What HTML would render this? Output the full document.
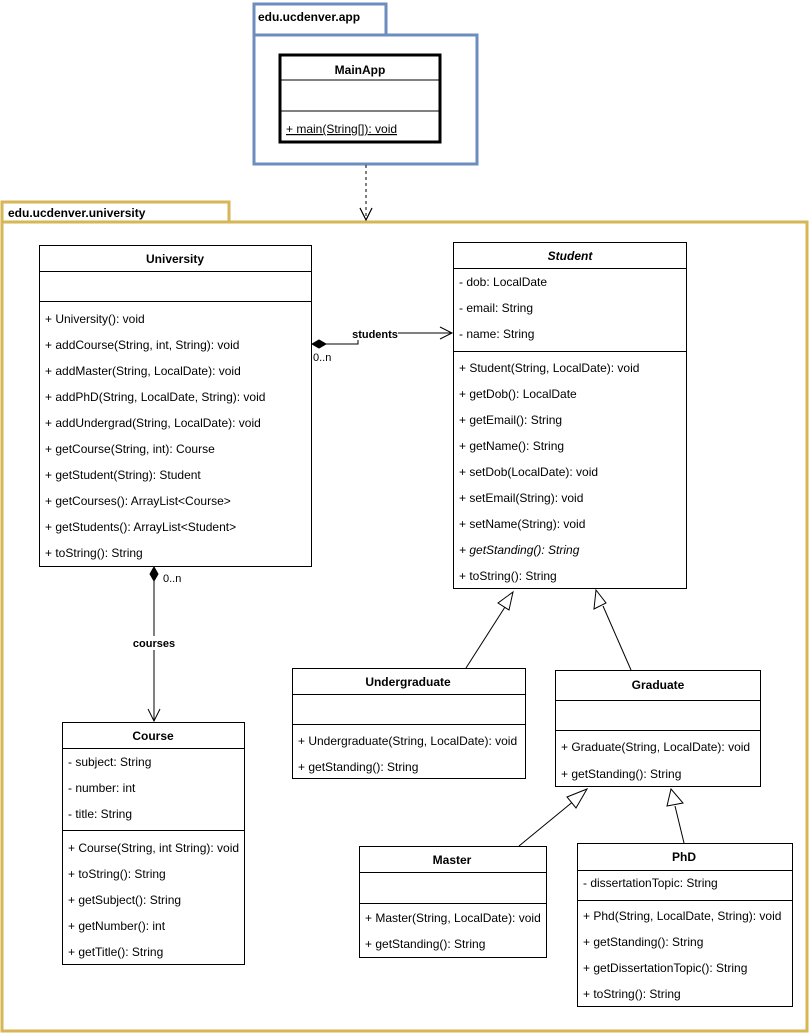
<!DOCTYPE html>
<html><head><meta charset="utf-8"><style>
html,body{margin:0;padding:0;background:#fff;}
svg{display:block;}
text{font-family:"Liberation Sans",Arial,sans-serif;font-size:12px;fill:#000;}
.b{font-weight:bold;}
</style></head><body>
<svg width="810" height="1034" viewBox="0 0 810 1034" xmlns="http://www.w3.org/2000/svg">
<!-- app package -->
<rect x="254" y="4" width="132" height="31" fill="#fff" stroke="#6c8ebf" stroke-width="3"/>
<rect x="254" y="35" width="223" height="129" fill="#fff" stroke="#6c8ebf" stroke-width="3"/>
<text x="258" y="21" class="b">edu.ucdenver.app</text>
<rect x="280" y="55" width="160" height="87" fill="#fff" stroke="#000" stroke-width="3"/>
<line x1="280" y1="80" x2="440" y2="80" stroke="#000" stroke-width="1"/>
<line x1="280" y1="111" x2="440" y2="111" stroke="#000" stroke-width="1"/>
<text x="360" y="74" class="b" text-anchor="middle">MainApp</text>
<text x="286" y="133" text-decoration="underline">+ main(String[]): void</text>
<!-- dashed dependency -->
<line x1="366" y1="165" x2="366" y2="220" stroke="#000" stroke-dasharray="3,3"/>
<polyline points="360,208 366,220 372,208" fill="none" stroke="#000"/>
<!-- university package -->
<rect x="2" y="202" width="227" height="20" fill="#fff" stroke="#d6b656" stroke-width="3"/>
<rect x="2" y="222" width="805" height="809" fill="#fff" stroke="#d6b656" stroke-width="3"/>
<text x="8" y="217" class="b">edu.ucdenver.university</text>
<polyline points="360,208 366,220 372,208" fill="none" stroke="#000"/>

<!-- University -->
<rect x="39.5" y="245.5" width="272" height="321" fill="#fff" stroke="#000"/>
<line x1="39" y1="271.5" x2="311" y2="271.5" stroke="#000"/>
<line x1="39" y1="301.5" x2="311" y2="301.5" stroke="#000"/>
<text x="175" y="263" class="b" text-anchor="middle">University</text>
<text x="45" y="323">+ University(): void</text>
<text x="45" y="349">+ addCourse(String, int, String): void</text>
<text x="45" y="375">+ addMaster(String, LocalDate): void</text>
<text x="45" y="401">+ addPhD(String, LocalDate, String): void</text>
<text x="45" y="427">+ addUndergrad(String, LocalDate): void</text>
<text x="45" y="453">+ getCourse(String, int): Course</text>
<text x="45" y="479">+ getStudent(String): Student</text>
<text x="45" y="505">+ getCourses(): ArrayList&lt;Course&gt;</text>
<text x="45" y="531">+ getStudents(): ArrayList&lt;Student&gt;</text>
<text x="45" y="557">+ toString(): String</text>

<!-- Student -->
<rect x="453.5" y="242.5" width="233" height="346" fill="#fff" stroke="#000"/>
<line x1="453" y1="268.5" x2="686" y2="268.5" stroke="#000"/>
<line x1="453" y1="351.5" x2="686" y2="351.5" stroke="#000"/>
<text x="570" y="260" class="b" font-style="italic" text-anchor="middle">Student</text>
<text x="459" y="286">- dob: LocalDate</text>
<text x="459" y="312">- email: String</text>
<text x="459" y="338">- name: String</text>
<text x="459" y="372">+ Student(String, LocalDate): void</text>
<text x="459" y="398">+ getDob(): LocalDate</text>
<text x="459" y="424">+ getEmail(): String</text>
<text x="459" y="450">+ getName(): String</text>
<text x="459" y="476">+ setDob(LocalDate): void</text>
<text x="459" y="502">+ setEmail(String): void</text>
<text x="459" y="528">+ setName(String): void</text>
<text x="459" y="554" font-style="italic">+ getStanding(): String</text>
<text x="459" y="580">+ toString(): String</text>

<!-- students association -->
<polyline points="312,344 358,344 358,333 452,333" fill="none" stroke="#000"/>
<polygon points="312,344 319,340 326,344 319,348" fill="#000" stroke="#000"/>
<polyline points="440,327 452,333 440,339" fill="none" stroke="#000"/>
<rect x="352" y="328" width="46" height="12" fill="#fff"/>
<text x="375" y="338" class="b" font-size="11" text-anchor="middle" style="font-size:11px">students</text>
<text x="313" y="361" style="font-size:11px">0..n</text>

<!-- Course -->
<rect x="62.5" y="722.5" width="182" height="242" fill="#fff" stroke="#000"/>
<line x1="62" y1="748.5" x2="244" y2="748.5" stroke="#000"/>
<line x1="62" y1="830.5" x2="244" y2="830.5" stroke="#000"/>
<text x="153" y="740" class="b" text-anchor="middle">Course</text>
<text x="68" y="766">- subject: String</text>
<text x="68" y="792">- number: int</text>
<text x="68" y="818">- title: String</text>
<text x="68" y="852">+ Course(String, int String): void</text>
<text x="68" y="878">+ toString(): String</text>
<text x="68" y="904">+ getSubject(): String</text>
<text x="68" y="930">+ getNumber(): int</text>
<text x="68" y="956">+ getTitle(): String</text>

<!-- courses association -->
<line x1="154" y1="568" x2="154" y2="721" stroke="#000"/>
<polygon points="154,567 150,574 154,581 158,574" fill="#000" stroke="#000"/>
<polyline points="148,709 154,721 160,709" fill="none" stroke="#000"/>
<rect x="130" y="636" width="48" height="14" fill="#fff"/>
<text x="154" y="647" class="b" text-anchor="middle" style="font-size:11px">courses</text>
<text x="163" y="582" style="font-size:11px">0..n</text>

<!-- Undergraduate -->
<rect x="292.5" y="668.5" width="233" height="110" fill="#fff" stroke="#000"/>
<line x1="292" y1="694.5" x2="525" y2="694.5" stroke="#000"/>
<line x1="292" y1="724.5" x2="525" y2="724.5" stroke="#000"/>
<text x="408" y="686" class="b" text-anchor="middle">Undergraduate</text>
<text x="298" y="745">+ Undergraduate(String, LocalDate): void</text>
<text x="298" y="771">+ getStanding(): String</text>

<!-- Graduate -->
<rect x="555.5" y="670.5" width="205" height="116" fill="#fff" stroke="#000"/>
<line x1="555" y1="700.5" x2="760" y2="700.5" stroke="#000"/>
<line x1="555" y1="730.5" x2="760" y2="730.5" stroke="#000"/>
<text x="658" y="689" class="b" text-anchor="middle">Graduate</text>
<text x="561" y="751">+ Graduate(String, LocalDate): void</text>
<text x="561" y="778">+ getStanding(): String</text>

<!-- Master -->
<rect x="359.5" y="846.5" width="187" height="111" fill="#fff" stroke="#000"/>
<line x1="359" y1="872.5" x2="546" y2="872.5" stroke="#000"/>
<line x1="359" y1="903.5" x2="546" y2="903.5" stroke="#000"/>
<text x="452" y="864" class="b" text-anchor="middle">Master</text>
<text x="365" y="922">+ Master(String, LocalDate): void</text>
<text x="365" y="948">+ getStanding(): String</text>

<!-- PhD -->
<rect x="577.5" y="843.5" width="215" height="163" fill="#fff" stroke="#000"/>
<line x1="577" y1="870.5" x2="792" y2="870.5" stroke="#000"/>
<line x1="577" y1="900.5" x2="792" y2="900.5" stroke="#000"/>
<text x="684" y="861" class="b" text-anchor="middle">PhD</text>
<text x="583" y="887">- dissertationTopic: String</text>
<text x="583" y="920">+ Phd(String, LocalDate, String): void</text>
<text x="583" y="946">+ getStanding(): String</text>
<text x="583" y="972">+ getDissertationTopic(): String</text>
<text x="583" y="998">+ toString(): String</text>

<!-- generalizations -->
<line x1="466" y1="668" x2="505" y2="607" stroke="#000"/>
<polygon points="513,592 498,603 509,610" fill="#fff" stroke="#000"/>
<line x1="631" y1="670" x2="603" y2="606" stroke="#000"/>
<polygon points="596,590 594,609 606,603" fill="#fff" stroke="#000"/>
<line x1="519" y1="846" x2="575" y2="800" stroke="#000"/>
<polygon points="587,789 567,797 576,808" fill="#fff" stroke="#000"/>
<line x1="684" y1="843" x2="675" y2="806" stroke="#000"/>
<polygon points="671,789 667,806 683,803" fill="#fff" stroke="#000"/>
</svg>
</body></html>
